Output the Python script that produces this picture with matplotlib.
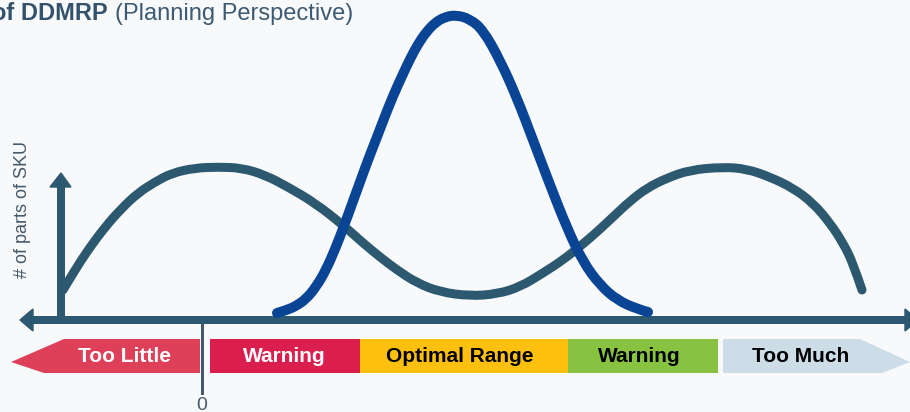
import numpy as np
import matplotlib
matplotlib.use("Agg")
import matplotlib.pyplot as plt
from matplotlib.patches import Polygon, PathPatch
from matplotlib.path import Path

plt.rcParams['font.family'] = ['Liberation Sans', 'DejaVu Sans']

# curves (x position, height in picture pixels)
wide_x = [63, 75, 88, 105, 122, 138, 155, 172, 195, 218, 242, 265, 288, 315, 343,
          363, 380, 397, 417, 440, 470, 497, 520, 543, 563, 583, 598, 614, 630,
          647, 667, 690, 723, 747, 770, 793, 813, 830, 843, 853, 862]
wide_y = [290, 270, 250, 227, 208, 193, 182, 173, 168, 167, 168, 175, 187, 203, 225,
          243, 257, 270, 283, 292, 296, 294, 287, 273, 260, 244, 231, 216, 201,
          188, 178, 170, 167, 169, 177, 188, 203, 223, 243, 263, 290]

narrow_x = [277, 287, 296, 306, 316, 326, 336, 344, 352, 360, 368, 377, 385, 393,
            402, 410, 418, 427, 436, 445, 456, 470, 483, 500, 517, 533, 550, 567,
            583, 600, 617, 637, 648]
narrow_y = [313, 310, 306, 299, 287, 270, 247, 226, 204, 182, 160, 137, 116, 96,
            76, 59, 44, 31, 22, 17, 15, 19, 30, 60, 98, 140, 185, 228,
            262, 285, 300, 309, 312]

zone_labels = ['Too Little', 'Warning', 'Optimal Range', 'Warning', 'Too Much']
zone_edges = [11, 200, 210, 360, 568, 718, 723, 910]
zone_colors = ['#df4059', '#da1f4f', '#fdc00f', '#87c340', '#cddde8']
zone_text = ['white', 'white', 'black', 'black', 'black']

axis_col = '#2c5870'
blue_col = '#0a4494'
px = 72 / 100.0


def smooth_path(xs, ys):
    # quadratic segments through the midpoints of the read points
    p = np.column_stack([xs, ys]).astype(float)
    verts = [p[0]]
    codes = [Path.MOVETO]
    for i in range(1, len(p) - 1):
        end = p[i + 1] if i == len(p) - 2 else (p[i] + p[i + 1]) / 2
        verts += [p[i], end]
        codes += [Path.CURVE3, Path.CURVE3]
    return Path(verts, codes)


fig = plt.figure(figsize=(9.1, 4.12), dpi=100)
fig.patch.set_facecolor('#f7f9fb')
ax = fig.add_axes([0, 0, 1, 1])
ax.set_facecolor('#f7f9fb')
ax.set_xlim(0, 910)
ax.set_ylim(412, 0)
ax.axis('off')

# zone bands
top, bot, mid = 339, 373, 362
bands = [
    [(zone_edges[0], mid), (64, top), (zone_edges[1], top), (zone_edges[1], bot), (44, bot)],
    [(zone_edges[2], top), (zone_edges[3], top), (zone_edges[3], bot), (zone_edges[2], bot)],
    [(zone_edges[3], top), (zone_edges[4], top), (zone_edges[4], bot), (zone_edges[3], bot)],
    [(zone_edges[4], top), (zone_edges[5], top), (zone_edges[5], bot), (zone_edges[4], bot)],
    [(zone_edges[6], top), (860, top), (zone_edges[7], mid), (882, bot), (zone_edges[6], bot)],
]
label_x = [125, 284, 460, 639, 801]
for pts, col, lab, tc, lx in zip(bands, zone_colors, zone_labels, zone_text, label_x):
    ax.add_patch(Polygon(pts, closed=True, facecolor=col, edgecolor='none', zorder=1))
    ax.text(lx, 356, lab, ha='center', va='center', fontsize=15, fontweight='bold',
            color=tc, zorder=5)

# zero tick
ax.plot([202, 202], [320, 393], color='#455a6b', lw=3 * px, zorder=2)
ax.text(202, 405, '0', ha='center', va='center', fontsize=14, color='#455a6b')

# axes with arrow heads
ax.plot([30, 906], [320, 320], color=axis_col, lw=8 * px, solid_capstyle='butt', zorder=3)
ax.add_patch(Polygon([(20, 320), (33, 309), (33, 331)], color=axis_col, zorder=3))
ax.add_patch(Polygon([(918, 320), (905, 309), (905, 331)], color=axis_col, zorder=3))
ax.plot([61, 61], [324, 185], color=axis_col, lw=8 * px, solid_capstyle='butt', zorder=6)
ax.add_patch(Polygon([(61, 173), (50, 187), (71, 187)], color=axis_col, zorder=6))

ax.text(23, 210, '# of parts of SKU', rotation=90, ha='center', va='center',
        fontsize=13, color='#45596b')

# curves
ax.add_patch(PathPatch(smooth_path(wide_x, wide_y), facecolor='none', edgecolor=axis_col,
                       lw=9 * px, capstyle='round', joinstyle='round', zorder=4))
ax.add_patch(PathPatch(smooth_path(narrow_x, narrow_y), facecolor='none', edgecolor=blue_col,
                       lw=10 * px, capstyle='round', joinstyle='round', zorder=5))

# title (cropped at the left edge, as in the original)
ax.text(108, 19.5, 'of DDMRP', ha='right', va='baseline', fontsize=17,
        fontweight='bold', color='#34526b')
ax.text(115, 19.5, '(Planning Perspective)', ha='left', va='baseline', fontsize=17,
        color='#3d5a72')

fig.savefig('out.png', dpi=100, facecolor=fig.get_facecolor())
